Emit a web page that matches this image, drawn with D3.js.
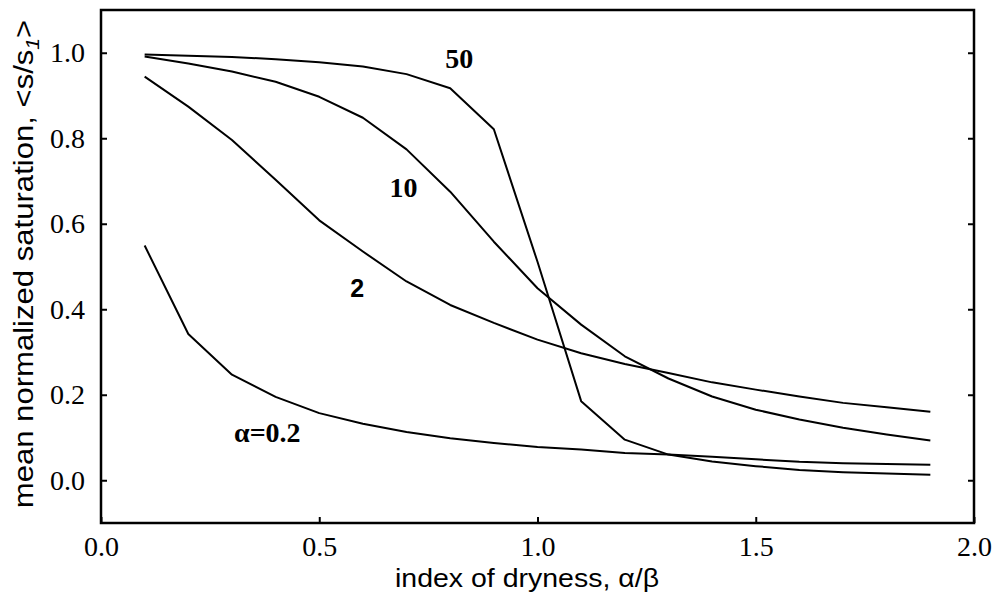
<!DOCTYPE html>
<html><head><meta charset="utf-8">
<script src="https://cdn.jsdelivr.net/npm/d3@7"></script>
<style>body{margin:0;background:#fff}svg{display:block}</style>
</head><body><svg id="c" width="993" height="610"></svg>
<script>
const xValues = [0.1,0.2,0.3,0.4,0.5,0.6,0.7,0.8,0.9,1.0,1.1,1.2,1.3,1.4,1.5,1.6,1.7,1.8,1.9];
const seriesA02 = [0.549,0.342,0.247,0.195,0.157,0.132,0.113,0.098,0.087,0.078,0.072,0.064,0.060,0.055,0.049,0.043,0.040,0.038,0.036];
const seriesA2  = [0.944,0.874,0.796,0.703,0.608,0.535,0.465,0.410,0.368,0.329,0.297,0.272,0.251,0.229,0.212,0.196,0.181,0.171,0.160];
const seriesA10 = [0.991,0.975,0.956,0.932,0.897,0.848,0.774,0.675,0.558,0.449,0.364,0.290,0.238,0.196,0.165,0.142,0.123,0.107,0.093];
const seriesA50 = [0.996,0.993,0.990,0.985,0.978,0.968,0.950,0.917,0.821,0.511,0.185,0.095,0.060,0.044,0.033,0.024,0.019,0.016,0.013];
const seriesLabels = ["\u03b1=0.2","2","10","50"];
const labelX = [0.381,0.587,0.693,0.821];
const labelY = [0.089,0.429,0.663,0.964];
const xTicks = [0.0,0.5,1.0,1.5,2.0];
const yTicks = [0.0,0.2,0.4,0.6,0.8,1.0];

const svg = d3.select("#c");
const L=101, R=974, T=10, B=523;
const x = d3.scaleLinear().domain([0,2]).range([L,R]);
const y = d3.scaleLinear().domain([-0.1,1.1]).range([B,T]);

const line = d3.line().x((d,i)=>x(xValues[i])).y(d=>y(d));
const series = [seriesA02, seriesA2, seriesA10, seriesA50];
svg.selectAll("path.s").data(series).join("path")
  .attr("class","s").attr("d",line).attr("fill","none")
  .attr("stroke","#000").attr("stroke-width",2).attr("stroke-linejoin","round");

const serif = "'Liberation Serif','Times New Roman',serif";
const sans = "'Liberation Sans',Arial,sans-serif";
const gx = svg.append("g").attr("transform",`translate(0,${B})`)
  .call(d3.axisBottom(x).tickValues(xTicks).tickFormat(d3.format(".1f")).tickSizeInner(-6).tickSizeOuter(0).tickPadding(13));
const gy = svg.append("g").attr("transform",`translate(${L},0)`)
  .call(d3.axisLeft(y).tickValues(yTicks).tickFormat(d3.format(".1f")).tickSizeInner(-6).tickSizeOuter(0).tickPadding(16));
const gr = svg.append("g").attr("transform",`translate(${R},0)`)
  .call(d3.axisRight(y).tickValues(yTicks).tickFormat("").tickSizeInner(-6).tickSizeOuter(0));
[gx,gy,gr].forEach(g=>{
  g.attr("font-family",serif).attr("font-size",28);
  g.select(".domain").remove();
  g.selectAll(".tick line").attr("stroke","#000").attr("stroke-width",2);
  g.selectAll("text").attr("font-family",serif).attr("font-size",28).attr("fill","#000");
});
svg.append("rect").attr("x",L).attr("y",T).attr("width",R-L).attr("height",B-T)
  .attr("fill","none").attr("stroke","#000").attr("stroke-width",2.5);

// curve labels
svg.selectAll("text.lab").data(seriesLabels).join("text").attr("class","lab")
  .attr("x",(d,i)=>x(labelX[i])).attr("y",(d,i)=>y(labelY[i]))
  .attr("text-anchor","middle")
  .attr("font-family",(d,i)=>i===1?sans:serif).attr("font-size",(d,i)=>i===1?25:28)
  .attr("font-weight","bold").text(d=>d);

// axis titles
svg.append("text").attr("transform","translate(527,587) scale(1.14,1)").attr("text-anchor","middle")
  .attr("font-family",sans).attr("font-size",25).text("index of dryness, \u03b1/\u03b2");
const yt = svg.append("text").attr("transform","translate(33,264) rotate(-90) scale(1.11,1)").attr("text-anchor","middle")
  .attr("font-family",sans).attr("font-size",28);
yt.append("tspan").text("mean normalized saturation, <s/s");
yt.append("tspan").attr("font-size",19).attr("dy",6).attr("font-style","italic").text("1");
yt.append("tspan").attr("dy",-6).text(">");
</script></body></html>
